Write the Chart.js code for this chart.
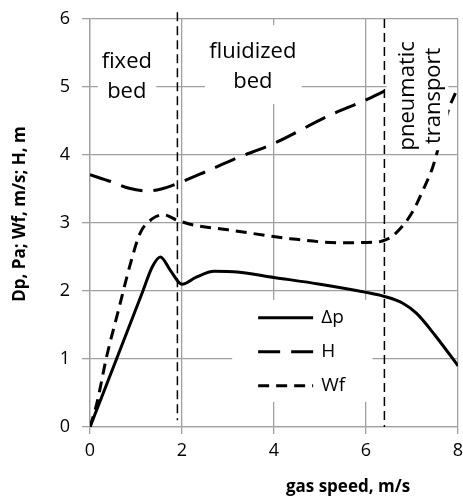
<!DOCTYPE html>
<html>
<head>
<meta charset="utf-8">
<script src="https://cdn.jsdelivr.net/npm/chart.js@4.4.0/dist/chart.umd.min.js"></script>
<style>
  html, body { margin: 0; padding: 0; background: #fff; }
  canvas { display: block; }
</style>
</head>
<body>
<canvas id="chart" width="463" height="497"></canvas>
<script>
// --- Data ---
const dpX = [0, 0.6, 1.15, 1.35, 1.53, 1.75, 2.0, 2.3, 2.7, 3.2, 4, 5, 6, 6.4, 6.8, 7.1, 7.5, 8];
const dpY = [0, 1.04, 2.0, 2.35, 2.5, 2.3, 2.1, 2.2, 2.29, 2.28, 2.2, 2.1, 1.98, 1.92, 1.82, 1.67, 1.35, 0.9];

const hX = [0, 0.45, 0.85, 1.25, 1.55, 1.9, 2.5, 3.1, 4, 5.2, 6, 6.4];
const hY = [3.71, 3.61, 3.51, 3.47, 3.5, 3.58, 3.75, 3.93, 4.17, 4.58, 4.81, 4.94];

const wfX = [0, 0.15, 0.36, 0.62, 0.87, 1.09, 1.35, 1.6, 1.9, 2.25, 3, 4.35, 5.45, 6.25, 6.45, 6.6, 7.0, 7.25, 7.45, 7.65, 7.8, 7.95];
const wfY = [0, 0.35, 1.03, 1.72, 2.38, 2.85, 3.06, 3.12, 3.04, 2.97, 2.9, 2.77, 2.71, 2.72, 2.76, 2.82, 3.15, 3.5, 3.82, 4.3, 4.68, 4.92];

// regime boundaries (gas speed) and the y span of each dashed marker
const boundaryX = [1.9, 6.4];
const boundaryYs = [[6.1, 0.1], [6, 0]];

const seriesLabels = ['Δp', 'H', 'Wf'];
const xTicks = [0, 2, 4, 6, 8];
const yTicks = [0, 1, 2, 3, 4, 5, 6];

const FONT = '"Open Sans", "Noto Sans", sans-serif';

const toPoints = (xs, ys) => xs.map((x, i) => ({ x, y: ys[i] }));

// --- Region captions (white boxes over the grid) ---
const regionLabels = [
  { lines: ['fixed', 'bed'], cx: 0.8, cy: 5.15, box: [0.17, 1.44, 5.62, 4.74] },
  { lines: ['fluidized', 'bed'], cx: 3.54, cy: 5.3, box: [2.5, 4.6, 5.91, 4.75] },
  { lines: ['pneumatic', 'transport'], cx: 7.19, cy: 4.87, box: [6.45, 7.79, 5.96, 4.07], rotate: true },
];

const regionPlugin = {
  id: 'regions',
  afterDatasetsDraw(chart) {
    const { ctx, scales: { x, y } } = chart;
    ctx.save();
    regionLabels.forEach(r => {
      const [x0, x1, y0, y1] = r.box;
      ctx.fillStyle = '#fff';
      ctx.fillRect(x.getPixelForValue(x0), y.getPixelForValue(y0),
        x.getPixelForValue(x1) - x.getPixelForValue(x0),
        y.getPixelForValue(y1) - y.getPixelForValue(y0));

      ctx.fillStyle = '#000';
      ctx.font = `22px ${FONT}`;
      ctx.textAlign = 'center';
      ctx.textBaseline = 'middle';
      const cx = x.getPixelForValue(r.cx);
      const cy = y.getPixelForValue(r.cy);
      ctx.save();
      ctx.translate(cx, cy);
      if (r.rotate) ctx.rotate(-Math.PI / 2);
      const gap = r.rotate ? 26 : 30;
      r.lines.forEach((t, i) => {
        ctx.fillText(t, 0, (i - (r.lines.length - 1) / 2) * gap);
      });
      ctx.restore();
    });
    ctx.restore();
  },
};

// --- Legend inside the plot ---
const legendPlugin = {
  id: 'innerLegend',
  afterDatasetsDraw(chart) {
    const { ctx, scales: { x, y } } = chart;
    const left = x.getPixelForValue(3.09);
    const top = y.getPixelForValue(1.87);
    const right = x.getPixelForValue(6.14);
    const bottom = y.getPixelForValue(0.37);
    ctx.save();
    ctx.fillStyle = '#fff';
    ctx.fillRect(left, top, right - left, bottom - top);

    chart.data.datasets.slice(0, 3).forEach((ds, i) => {
      const rowY = top + 18 + i * 34;
      ctx.strokeStyle = ds.borderColor;
      ctx.lineWidth = ds.borderWidth;
      ctx.setLineDash(ds.borderDash || []);
      ctx.beginPath();
      ctx.moveTo(left + 26, rowY);
      ctx.lineTo(left + 81, rowY);
      ctx.stroke();
      ctx.setLineDash([]);
      ctx.fillStyle = '#000';
      ctx.font = `19px ${FONT}`;
      ctx.textAlign = 'left';
      ctx.textBaseline = 'middle';
      ctx.fillText(ds.label, left + 89, rowY);
    });
    ctx.restore();
  },
};

// --- Axis titles placed as in the reference ---
const titlePlugin = {
  id: 'axisTitles',
  afterDraw(chart) {
    const { ctx, chartArea } = chart;
    ctx.save();
    ctx.fillStyle = '#000';
    ctx.font = `bold 17px ${FONT}`;
    ctx.textAlign = 'center';
    ctx.textBaseline = 'middle';
    ctx.fillText('gas speed, m/s', chartArea.right - 110, chartArea.bottom + 60);
    ctx.translate(chartArea.left - 70, chartArea.top + 195);
    ctx.rotate(-Math.PI / 2);
    ctx.fillText('Dp, Pa; Wf, m/s; H, m', 0, 0);
    ctx.restore();
  },
};

const seriesStyle = { borderColor: '#000', borderWidth: 3, pointRadius: 0, fill: false, cubicInterpolationMode: 'monotone' };

const ctx = document.getElementById('chart').getContext('2d');
new Chart(ctx, {
  type: 'line',
  data: {
    datasets: [
      { ...seriesStyle, label: seriesLabels[0], data: toPoints(dpX, dpY) },
      { ...seriesStyle, label: seriesLabels[1], data: toPoints(hX, hY), borderDash: [22, 11] },
      { ...seriesStyle, label: seriesLabels[2], data: toPoints(wfX, wfY), borderDash: [11, 7] },
      ...boundaryX.map((bx, i) => ({
        label: 'boundary', data: boundaryYs[i].map(by => ({ x: bx, y: by })),
        borderColor: '#000', borderWidth: 1.5, borderDash: [9, 5], pointRadius: 0, tension: 0, clip: false,
      })),
    ],
  },
  options: {
    responsive: false,
    animation: false,
    layout: { padding: { left: 0, right: 5, top: 19, bottom: 0 } },
    plugins: { legend: { display: false }, tooltip: { enabled: false } },
    scales: {
      x: {
        type: 'linear', min: 0, max: 8,
        afterBuildTicks: s => { s.ticks = xTicks.map(v => ({ value: v })); },
        afterFit: s => { s.height = 70; s.paddingLeft = 0; s.paddingRight = 0; },
        ticks: { color: '#000', font: { family: FONT, size: 18 }, padding: 6, maxRotation: 0 },
        grid: { color: '#a0a0a0', lineWidth: 1.3, tickLength: 7 },
        border: { color: '#a0a0a0', width: 1.3 },
      },
      y: {
        type: 'linear', min: 0, max: 6,
        afterBuildTicks: s => { s.ticks = yTicks.map(v => ({ value: v })); },
        afterFit: s => { s.width = 90; s.paddingTop = 0; s.paddingBottom = 0; },
        ticks: { color: '#000', font: { family: FONT, size: 18 }, padding: 12 },
        grid: { color: '#a0a0a0', lineWidth: 1.3, tickLength: 8 },
        border: { color: '#a0a0a0', width: 1.3 },
      },
    },
  },
  plugins: [regionPlugin, legendPlugin, titlePlugin],
});
</script>
</body>
</html>
